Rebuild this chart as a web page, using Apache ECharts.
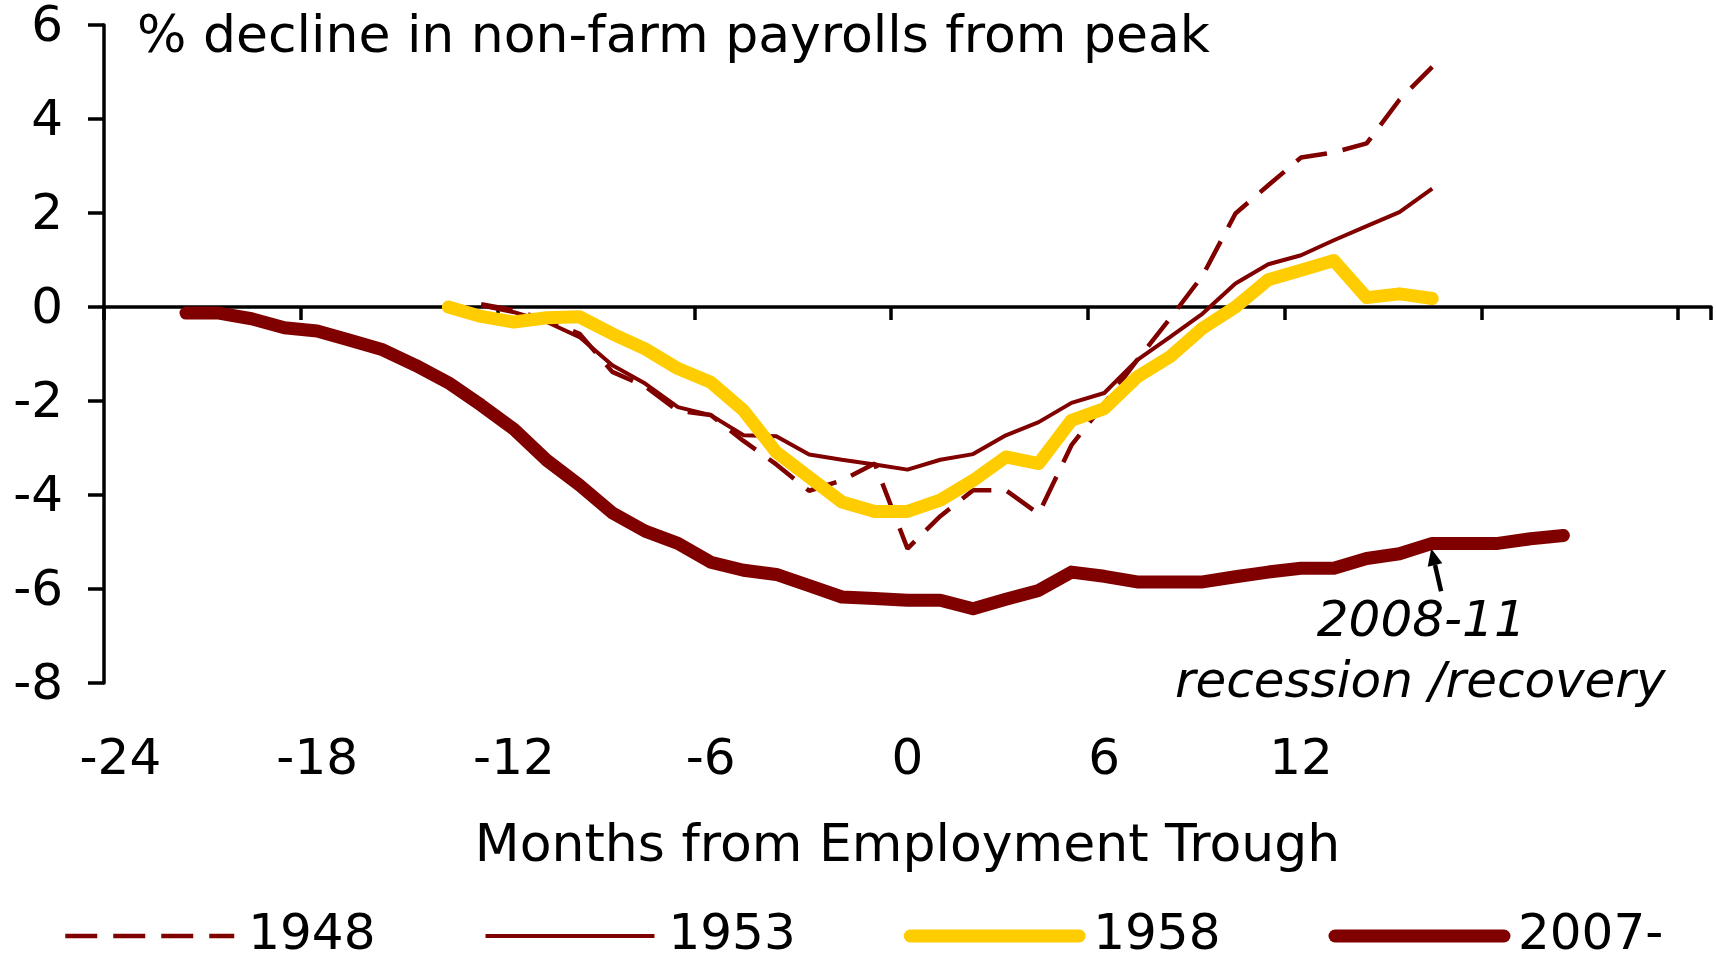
<!DOCTYPE html>
<html>
<head>
<meta charset="utf-8">
<script src="https://cdn.jsdelivr.net/npm/echarts@6/dist/echarts.min.js"></script>
<style>
  html, body { margin: 0; padding: 0; background: #fff; }
  #chart { width: 1716px; height: 960px; }
</style>
</head>
<body>
<div id="chart"></div>
<script>
const FONT = "DejaVu Sans";
const RED = "#800000";
const YELLOW = "#FFCC00";

const months = ["-24","-23","-22","-21","-20","-19","-18","-17","-16","-15","-14","-13",
  "-12","-11","-10","-9","-8","-7","-6","-5","-4","-3","-2","-1","0",
  "1","2","3","4","5","6","7","8","9","10","11","12","13","14","15","16",
  "17","18","19","20","21","22","23","24"];
const tickLabels = ["-24", "-18", "-12", "-6", "0", "6", "12"];

// first month of each series, then one value per month
const start1948 = -13;
const values1948 = [0.06, -0.07, -0.28, -0.57, -1.38, -1.69, -2.21, -2.30, -2.85, -3.35,
  -3.91, -3.69, -3.33, -5.14, -4.45, -3.90, -3.90, -4.40, -2.94, -2.06,
  -1.13, -0.25, 0.67, 1.99, 2.59, 3.18, 3.29, 3.48, 4.41, 5.11];

const start1953 = -13;
const values1953 = [0.03, -0.11, -0.32, -0.64, -1.24, -1.63, -2.13, -2.30, -2.73, -2.75,
  -3.14, -3.25, -3.35, -3.46, -3.25, -3.13, -2.73, -2.45, -2.04, -1.83,
  -1.13, -0.64, -0.14, 0.50, 0.91, 1.10, 1.42, 1.72, 2.02, 2.52];

const start1958 = -14;
const values1958 = [0.0, -0.20, -0.32, -0.23, -0.21, -0.57, -0.89, -1.31, -1.60, -2.20,
  -3.09, -3.62, -4.15, -4.35, -4.35, -4.11, -3.69, -3.19, -3.33, -2.41,
  -2.16, -1.49, -1.06, -0.45, 0.0, 0.58, 0.78, 0.99, 0.20, 0.28, 0.18];

const start2007 = -22;
const values2007 = [-0.13, -0.13, -0.25, -0.44, -0.51, -0.71, -0.91, -1.24, -1.61, -2.09,
  -2.60, -3.26, -3.79, -4.38, -4.77, -5.03, -5.43, -5.60, -5.69, -5.93,
  -6.17, -6.20, -6.24, -6.24, -6.42, -6.22, -6.03, -5.64, -5.73, -5.85,
  -5.85, -5.85, -5.74, -5.64, -5.56, -5.56, -5.35, -5.25, -5.03, -5.03,
  -5.03, -4.93, -4.86];

const arrowMonth = 16;

function toPairs(start, values){
  return values.map((v, i) => [String(start + i), v]);
}

const chart = echarts.init(document.getElementById("chart"), null, { renderer: "canvas" });

const lineBase = {
  type: "line",
  xAxisIndex: 1,
  yAxisIndex: 0,
  symbol: "none",
  silent: true
};

chart.setOption({
  animation: false,
  backgroundColor: "#fff",
  grid: { left: 104, right: 5, top: 25, bottom: 277, containLabel: false },
  legend: {
    left: 63,
    top: 911,
    padding: 0,
    itemWidth: 169,
    itemHeight: 14,
    itemGap: 108,
    selectedMode: false,
    itemStyle: { opacity: 0 },
    lineStyle: { width: "inherit" },
    textStyle: { fontFamily: FONT, fontSize: 50, color: "#000", padding: [0, 0, 0, 9] },
    data: ["1948", "1953", "1958", "2007-"]
  },
  xAxis: [
    {
      type: "category",
      data: months,
      position: "bottom",
      boundaryGap: true,
      axisLine: { show: false, onZero: false },
      axisTick: { show: false },
      axisLabel: {
        interval: 5,
        margin: 53,
        fontFamily: FONT,
        fontSize: 50,
        color: "#000",
        formatter: (v) => tickLabels.includes(v) ? v : ""
      },
      name: "Months from Employment Trough",
      nameLocation: "middle",
      nameGap: 138,
      nameTextStyle: { fontFamily: FONT, fontSize: 52, color: "#000" }
    },
    {
      type: "category",
      data: months,
      position: "bottom",
      boundaryGap: true,
      axisLine: { show: true, onZero: true, lineStyle: { color: "#000", width: 3.5 } },
      axisTick: { show: true, interval: 5, length: 13, lineStyle: { color: "#000", width: 3.5 } },
      axisLabel: { show: false }
    }
  ],
  yAxis: {
    type: "value",
    min: -8,
    max: 6,
    interval: 2,
    axisLine: { show: true, onZero: false, lineStyle: { color: "#000", width: 3.5 } },
    axisTick: { show: true, length: 16, lineStyle: { color: "#000", width: 3.5 } },
    splitLine: { show: false },
    axisLabel: {
      margin: 41,
      fontFamily: FONT,
      fontSize: 50,
      color: "#000",
      formatter: (v) => "{n|" + v + "}",
      rich: { n: { fontFamily: FONT, fontSize: 50, color: "#000", padding: [7, 0, 0, 0] } }
    }
  },
  series: [
    Object.assign({}, lineBase, {
      name: "1948",
      data: toPairs(start1948, values1948),
      lineStyle: { color: RED, width: 4.5, type: [32, 16] },
      itemStyle: { color: RED }
    }),
    Object.assign({}, lineBase, {
      name: "1953",
      data: toPairs(start1953, values1953),
      lineStyle: { color: RED, width: 4 },
      itemStyle: { color: RED }
    }),
    Object.assign({}, lineBase, {
      name: "1958",
      data: toPairs(start1958, values1958),
      lineStyle: { color: YELLOW, width: 13, cap: "round", join: "round" },
      itemStyle: { color: YELLOW }
    }),
    Object.assign({}, lineBase, {
      name: "2007-",
      data: toPairs(start2007, values2007),
      lineStyle: { color: RED, width: 13, cap: "round", join: "round" },
      itemStyle: { color: RED }
    })
  ]
});

// annotation anchored on the 2007 line
const tip = chart.convertToPixel({ xAxisIndex: 1, yAxisIndex: 0 },
  [String(arrowMonth), values2007[arrowMonth - start2007]]);
const tx = tip[0] - 1, ty = tip[1] + 5;
const dx = 0.224, dy = 0.975;
const headLen = 17, headHalf = 7.5;
const bx = tx + dx * headLen, by = ty + dy * headLen;

chart.setOption({
  graphic: [
    {
      type: "text",
      x: 137,
      y: 38,
      silent: true,
      style: {
        text: "% decline in non-farm payrolls from peak",
        fontFamily: FONT,
        fontSize: 52,
        fill: "#000",
        align: "left",
        verticalAlign: "middle"
      }
    },
    {
      type: "line",
      silent: true,
      shape: { x1: tx + dx * 44, y1: ty + dy * 44, x2: bx, y2: by },
      style: { stroke: "#000", lineWidth: 4.5 }
    },
    {
      type: "polygon",
      silent: true,
      shape: { points: [[tx, ty], [bx + dy * headHalf, by - dx * headHalf], [bx - dy * headHalf, by + dx * headHalf]] },
      style: { fill: "#000" }
    },
    {
      type: "text",
      x: tip[0] - 11,
      y: tip[1] + 80,
      silent: true,
      style: {
        text: "2008-11",
        fontFamily: FONT,
        fontStyle: "italic",
        fontSize: 50,
        fill: "#000",
        align: "center",
        verticalAlign: "middle"
      }
    },
    {
      type: "text",
      x: tip[0] - 12,
      y: tip[1] + 141,
      silent: true,
      style: {
        text: "recession /recovery",
        fontFamily: FONT,
        fontStyle: "italic",
        fontSize: 50,
        fill: "#000",
        align: "center",
        verticalAlign: "middle"
      }
    }
  ]
});
</script>
</body>
</html>
